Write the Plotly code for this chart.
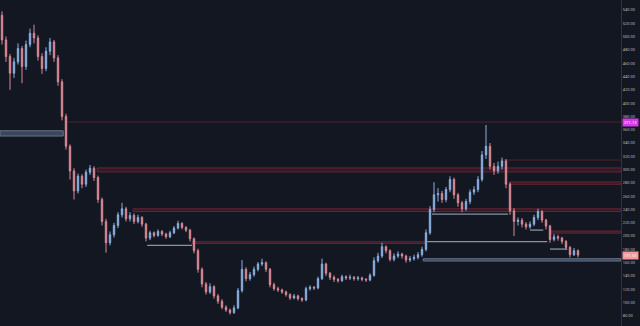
import plotly.graph_objects as go

# ---- data ----
opens = [532,495,470,445,462,482,455,488,505,498,470,452,478,492,468,432,380,335,298,268,
         290,278,296,302,288,255,222,190,202,216,232,241,226,231,222,228,218,197,205,201,
         207,203,199,205,212,219,213,209,196,178,150,128,116,124,110,102,93,89,85,92,
         118,150,136,142,150,158,160,150,127,121,119,116,112,107,110,106,104,121,123,122,
         136,158,144,138,135,133,139,137,138,136,137,135,134,141,163,170,184,178,165,170,
         173,170,164,166,168,172,180,205,240,262,264,255,270,285,262,250,241,252,266,270,
         285,322,335,305,298,305,313,278,238,222,224,218,214,218,228,237,224,215,195,199,
         197,192,183,172,178]
closes = [495,470,445,462,482,455,488,505,498,470,452,478,492,468,432,380,335,298,268,290,
          278,296,302,288,255,222,190,202,216,232,241,226,231,222,228,218,197,205,201,207,
          203,199,205,212,219,213,209,196,178,150,128,116,124,110,102,93,89,85,92,118,
          150,136,142,150,158,160,150,127,121,119,116,112,107,110,106,104,121,123,122,136,
          158,144,138,135,133,139,137,138,136,137,135,134,141,163,170,184,178,165,170,173,
          170,164,166,168,172,180,205,240,262,264,255,270,285,262,250,241,252,266,270,285,
          322,335,305,298,305,313,278,238,222,224,218,214,218,228,237,224,215,195,199,197,
          192,183,172,178,171.5]
highs = [538,500,474,468,490,486,494,512,518,502,475,484,498,495,472,436,384,338,302,294,
         293,300,307,305,291,258,226,207,220,236,250,244,236,234,232,230,220,208,207,210,
         209,205,208,215,223,221,215,211,198,181,153,131,129,126,113,105,96,91,96,122,
         164,153,146,154,161,166,162,152,130,124,121,118,114,113,112,108,124,126,125,139,
         166,160,146,141,137,142,141,142,140,140,139,137,144,168,175,190,186,180,174,177,
         175,172,170,172,176,184,210,245,281,272,268,274,290,288,265,253,256,270,275,290,
         328,367,340,310,312,318,316,281,242,228,227,221,222,232,241,239,226,217,203,202,
         199,194,185,182,180]
lows = [488,462,420,438,458,430,450,484,490,464,444,448,472,462,426,374,330,285,255,264,
        272,274,292,283,250,216,175,186,198,212,228,222,222,218,219,214,192,194,198,199,
        200,196,197,203,210,210,206,192,174,145,123,112,113,106,98,90,86,82,83,90,
        115,132,133,139,147,155,146,123,118,116,113,109,104,105,103,101,102,118,119,120,
        134,140,134,131,130,131,134,134,133,133,132,131,132,139,160,167,174,162,162,167,
        166,160,161,163,165,169,177,202,236,252,250,251,266,256,244,236,238,248,262,266,
        282,316,300,292,294,300,272,232,200,216,213,210,211,215,224,220,210,190,192,193,
        188,179,168,170,168]
idx = list(range(len(closes)))

tick_vals = [80,100,120,140,160,180,200,220,240,260,280,300,320,340,360,380,400,
             420,440,460,480,500,520,540]
tick_text = [f"{v:.2f}" for v in tick_vals]

# resistance (red) levels: (low, high, start index)
red_levels = [(296.5, 302.5, 23.8),
              (278.0, 281.5, 127.0),
              (237.0, 241.0, 32.8),
              (204.5, 207.5, 137.0)]
red_thin = [(371.5, 15.8), (314.4, 125.3)]
red_segment = (189.0, 191.5, 47.5, 105.8)
# support (grey) lines: (price, start, end)
grey_lines = [(186.0, 36.3, 47.5), (233.0, 107.5, 126.5), (191.8, 106.3, 136.3),
              (209.0, 132.0, 135.3), (180.5, 137.0, 141.3)]
blue_zones = [(162.5, 166.0, 105.3, None), (350.5, 358.4, -0.5, 15.3)]
last_price = 171.5
alert_price = 371.13

XMIN, XMAX = -0.5, -0.5 + 621 / 4
YMIN, YMAX = 64.8, 555.04

fig = go.Figure(go.Candlestick(
    x=idx, open=opens, high=highs, low=lows, close=closes,
    increasing=dict(line=dict(color="#8ab0e2", width=1), fillcolor="#8ab0e2"),
    decreasing=dict(line=dict(color="#d98a95", width=1), fillcolor="#d98a95"),
    whiskerwidth=0, showlegend=False, hoverinfo="skip"))

RED_FILL = "rgba(100,28,42,0.40)"
RED_LINE = "#6a2534"
shapes = []
for lo, hi, x0 in red_levels:
    shapes.append(dict(type="rect", xref="x", yref="y", x0=x0, x1=XMAX, y0=lo, y1=hi,
                       fillcolor=RED_FILL, line=dict(color=RED_LINE, width=1), layer="below"))
for p, x0 in red_thin:
    shapes.append(dict(type="line", xref="x", yref="y", x0=x0, x1=XMAX, y0=p, y1=p,
                       line=dict(color="#4e2230", width=1), layer="below"))
lo, hi, x0, x1 = red_segment
shapes.append(dict(type="rect", xref="x", yref="y", x0=x0, x1=x1, y0=lo, y1=hi,
                   fillcolor=RED_FILL, line=dict(color=RED_LINE, width=1), layer="below"))
for p, x0, x1 in grey_lines:
    shapes.append(dict(type="line", xref="x", yref="y", x0=x0, x1=x1, y0=p, y1=p,
                       line=dict(color="#8a93a3", width=1.3), layer="below"))
for lo, hi, x0, x1 in blue_zones:
    shapes.append(dict(type="rect", xref="x", yref="y", x0=x0, x1=(XMAX if x1 is None else x1),
                       y0=lo, y1=hi, fillcolor="#3a465a", line=dict(color="#65748b", width=1),
                       layer="below"))

annotations = [
    dict(xref="paper", yref="y", x=1, y=alert_price, xanchor="left", yanchor="middle",
         text=f"{alert_price:.2f}", showarrow=False, font=dict(size=4, color="#ffffff"),
         bgcolor="#d43be6", borderpad=1, xshift=1),
    dict(xref="paper", yref="y", x=1, y=last_price, xanchor="left", yanchor="middle",
         text=f"{last_price:.2f}", showarrow=False, font=dict(size=4, color="#ffffff"),
         bgcolor="#f29a9a", borderpad=1, xshift=1),
]

fig.update_layout(
    width=640, height=326, margin=dict(l=0, r=19, t=0, b=0),
    paper_bgcolor="#131722", plot_bgcolor="#131722", boxgap=0.5,
    shapes=shapes, annotations=annotations,
    xaxis=dict(range=[XMIN, XMAX], visible=False, rangeslider=dict(visible=False),
               showgrid=False, zeroline=False),
    yaxis=dict(range=[YMIN, YMAX], side="right", tickvals=tick_vals, ticktext=tick_text,
               tickfont=dict(size=4, color="#b2b5be", family="Roboto"), showgrid=False,
               zeroline=False, showline=True, linecolor="#2f3341", linewidth=1, ticks=""),
)

fig.write_html("out.html")
